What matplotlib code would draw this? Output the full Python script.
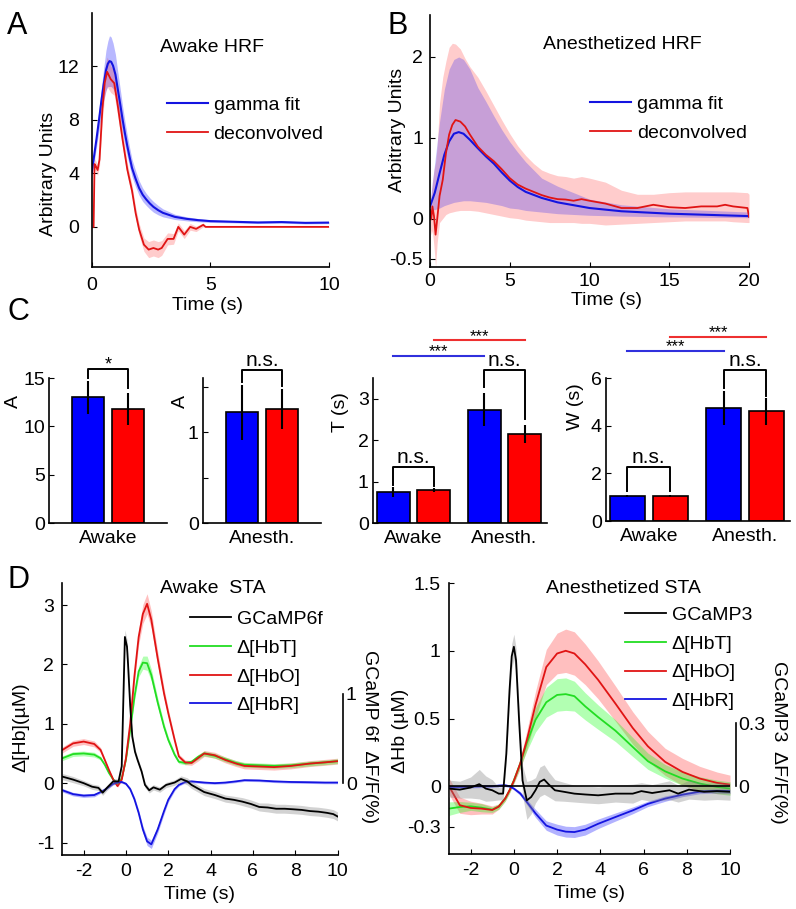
import numpy as np
import matplotlib
matplotlib.use('Agg')
import matplotlib.pyplot as plt

plt.rcParams['font.family'] = ['Liberation Sans', 'DejaVu Sans']
plt.rcParams['font.size'] = 14
plt.rcParams['axes.linewidth'] = 1.2
plt.rcParams['axes.unicode_minus'] = False
plt.rcParams['xtick.direction'] = 'in'
plt.rcParams['ytick.direction'] = 'in'
plt.rcParams['xtick.major.size'] = 3.5
plt.rcParams['ytick.major.size'] = 3.5

BLUE = '#1414e0'
RED = '#e01414'
GREEN = '#22dd22'

# ---- A: awake HRF ----
t_a_fit = [0, 0.1, 0.2, 0.3, 0.4, 0.5, 0.6, 0.68, 0.75, 0.82, 0.9, 1.0, 1.1, 1.2, 1.3, 1.4, 1.5, 1.6,
           1.7, 1.85, 2.0, 2.15, 2.3, 2.45, 2.6, 2.8, 3.0, 3.5, 4.0, 4.5, 5.0, 6.0, 7.0, 8.0, 9.0, 10.0]
a_fit = [4.05, 5.3, 6.55, 7.9, 9.3, 10.6, 11.7, 12.2, 12.4, 12.35, 12.05, 11.4, 10.3, 9.2, 8.05, 7.0, 6.05, 5.2,
         4.4, 3.6, 2.9, 2.4, 2.05, 1.75, 1.5, 1.25, 1.05, 0.75, 0.6, 0.5, 0.43, 0.38, 0.33, 0.36, 0.3, 0.32]
a_fit_sd = [0.4, 0.5, 0.6, 0.8, 1.0, 1.2, 1.5, 1.7, 1.9, 1.85, 1.7, 1.5, 1.3, 1.15, 1.0, 0.9, 0.8, 0.72,
            0.65, 0.6, 0.55, 0.5, 0.45, 0.42, 0.4, 0.35, 0.3, 0.2, 0.15, 0.12, 0.1, 0.08, 0.08, 0.08, 0.08, 0.08]

t_a_dec = [0.08, 0.12, 0.17, 0.25, 0.33, 0.45, 0.55, 0.65, 0.8, 0.95, 1.1, 1.3, 1.5, 1.7, 1.85, 2.0,
           2.2, 2.4, 2.6, 2.8, 2.95, 3.2, 3.45, 3.65, 3.9, 4.15, 4.4, 4.7, 4.8, 6.0, 8.0, 10.0]
a_dec = [0.0, 4.7, 4.55, 4.25, 5.05, 8.8, 10.8, 11.6, 11.05, 10.75, 9.05, 6.55, 4.3, 2.7, 1.05, -0.2,
         -1.33, -1.7, -1.58, -1.7, -1.58, -0.9, -0.9, 0.0, -0.58, 0.0, -0.15, 0.15, 0.0, 0.0, 0.0, 0.0]
a_dec_sd = [0.1, 0.4, 0.4, 0.4, 0.5, 0.8, 1.0, 1.1, 1.0, 0.9, 0.8, 0.6, 0.5, 0.45, 0.45, 0.45,
            0.5, 0.6, 0.6, 0.6, 0.55, 0.45, 0.4, 0.3, 0.3, 0.25, 0.2, 0.15, 0.05, 0.03, 0.03, 0.03]

# ---- B: anesthetized HRF ----
t_b_fit = [0, 0.3, 0.6, 0.9, 1.2, 1.5, 1.8, 2.1, 2.5, 3, 3.5, 4, 4.5, 5, 5.5, 6, 7, 8, 10, 12, 15, 20]
b_fit = [0.15, 0.32, 0.56, 0.79, 0.955, 1.05, 1.07, 1.05, 0.975, 0.87, 0.77, 0.68, 0.57, 0.47, 0.39, 0.33,
         0.255, 0.2, 0.13, 0.09, 0.06, 0.03]
b_fit_lo = [0.1, 0.11, 0.13, 0.16, 0.18, 0.2, 0.21, 0.22, 0.22, 0.21, 0.2, 0.18, 0.16, 0.13, 0.12, 0.1,
            0.08, 0.06, 0.04, 0.03, 0.02, 0.01]
b_fit_hi = [0.2, 0.7, 1.2, 1.6, 1.85, 1.97, 2.0, 1.97, 1.85, 1.62, 1.45, 1.27, 1.1, 0.95, 0.82, 0.7,
            0.5, 0.4, 0.24, 0.17, 0.12, 0.08]

t_b_dec = [0, 0.08, 0.15, 0.25, 0.35, 0.45, 0.6, 0.8, 1.0, 1.2, 1.4, 1.6, 1.9, 2.2, 2.5, 3, 3.5, 4, 4.5, 5,
           5.5, 6, 6.5, 7, 7.5, 8, 8.5, 9, 9.5, 10, 11, 12, 13, 14, 15, 16, 17, 18, 18.5, 19, 19.9, 20]
b_dec = [0.11, -0.01, 0.15, 0.03, -0.2, -0.01, 0.28, 0.48, 0.81, 1.04, 1.16, 1.22, 1.2, 1.14, 1.04, 0.89,
         0.79, 0.71, 0.61, 0.5, 0.42, 0.37, 0.33, 0.29, 0.26, 0.24, 0.235, 0.22, 0.24, 0.22, 0.185, 0.13,
         0.13, 0.17, 0.14, 0.13, 0.15, 0.15, 0.17, 0.15, 0.13, 0.02]
b_dec_lo = [-0.1, -0.2, -0.15, -0.35, -0.6, -0.3, -0.05, 0.0, 0.05, 0.07, 0.08, 0.09, 0.1, 0.1, 0.1, 0.09,
            0.07, 0.05, 0.03, 0.01, 0.0, -0.02, -0.03, -0.04, -0.05, -0.05, -0.05, -0.05, -0.06, -0.06,
            -0.08, -0.07, -0.06, -0.05, -0.04, -0.03, -0.03, -0.03, -0.03, -0.04, -0.05, -0.05]
b_dec_hi = [0.15, 0.3, 0.45, 0.6, 0.7, 0.9, 1.43, 1.75, 1.95, 2.12, 2.17, 2.16, 2.1, 1.98, 1.88, 1.75,
            1.58, 1.4, 1.22, 1.05, 0.9, 0.78, 0.68, 0.6, 0.56, 0.53, 0.52, 0.5, 0.52, 0.5, 0.45, 0.35,
            0.3, 0.3, 0.32, 0.33, 0.33, 0.33, 0.33, 0.33, 0.32, 0.3]

# ---- C: fit parameters (blue = gamma fit, red = deconvolved) ----
c_amp_awake = [13.0, 11.8]
c_amp_awake_err = [1.7, 1.7]
c_amp_anes = [1.22, 1.26]
c_amp_anes_err = [0.3, 0.22]
c_T = [0.75, 0.8, 2.74, 2.15]
c_T_err = [0.13, 0.05, 0.4, 0.22]
c_W = [1.05, 1.05, 4.75, 4.6]
c_W_err = [0.05, 0.05, 0.7, 0.58]

# ---- D left: awake STA ----
t_dl = [-3, -2.5, -2, -1.5, -1.2, -1, -0.8, -0.6, -0.4, -0.2, 0, 0.2, 0.4, 0.6, 0.8, 1.0, 1.2, 1.5,
        1.8, 2.0, 2.3, 2.5, 2.8, 3.1, 3.4, 3.7, 4.2, 4.7, 5.2, 5.6, 6.3, 7.0, 7.8, 8.7, 9.4, 10]
hbo_l = [0.56, 0.67, 0.70, 0.66, 0.56, 0.39, 0.22, 0.06, -0.05, 0.06, 0.42, 1.0, 1.8, 2.46, 2.85, 3.02,
         2.75, 2.1, 1.51, 1.18, 0.73, 0.45, 0.35, 0.34, 0.42, 0.5, 0.47, 0.39, 0.33, 0.29, 0.28, 0.27,
         0.29, 0.33, 0.35, 0.37]
hbt_l = [0.42, 0.49, 0.50, 0.48, 0.42, 0.31, 0.17, 0.06, 0.0, 0.08, 0.4, 0.9, 1.45, 1.88, 2.03, 2.02,
         1.82, 1.36, 0.95, 0.73, 0.48, 0.36, 0.34, 0.36, 0.44, 0.5, 0.46, 0.4, 0.34, 0.31, 0.3, 0.29,
         0.3, 0.33, 0.35, 0.37]
hbr_l = [-0.12, -0.185, -0.21, -0.2, -0.15, -0.11, -0.06, -0.01, 0.01, 0.02, -0.01, -0.1, -0.27, -0.5,
         -0.78, -0.98, -1.03, -0.78, -0.47, -0.28, -0.1, -0.03, 0.02, 0.03, 0.02, 0.01, 0.0, 0.01, 0.03,
         0.05, 0.045, 0.03, 0.02, 0.015, 0.01, 0.01]
hbo_l_sd = [0.05, 0.05, 0.05, 0.05, 0.04, 0.03, 0.02, 0.02, 0.02, 0.03, 0.04, 0.07, 0.1, 0.13, 0.16, 0.17,
            0.15, 0.12, 0.09, 0.07, 0.05, 0.04, 0.04, 0.04, 0.05, 0.05, 0.05, 0.05, 0.05, 0.05, 0.05,
            0.05, 0.05, 0.05, 0.05, 0.05]
hbt_l_sd = [0.04, 0.04, 0.04, 0.04, 0.03, 0.02, 0.02, 0.02, 0.02, 0.02, 0.03, 0.05, 0.07, 0.09, 0.11, 0.12,
            0.1, 0.08, 0.06, 0.05, 0.04, 0.03, 0.03, 0.03, 0.04, 0.04, 0.04, 0.04, 0.04, 0.04, 0.04,
            0.04, 0.04, 0.04, 0.04, 0.04]
hbr_l_sd = [0.03, 0.03, 0.03, 0.03, 0.02, 0.02, 0.02, 0.02, 0.02, 0.02, 0.02, 0.03, 0.04, 0.05, 0.06, 0.07,
            0.07, 0.06, 0.05, 0.04, 0.03, 0.02, 0.02, 0.02, 0.02, 0.02, 0.02, 0.02, 0.02, 0.02, 0.02,
            0.02, 0.02, 0.02, 0.02, 0.02]

t_gl = [-3, -2.5, -2, -1.6, -1.3, -1.1, -0.9, -0.6, -0.35, -0.2, -0.1, -0.05, 0.05, 0.1, 0.2, 0.3, 0.43,
        0.55, 0.74, 0.9, 1.1, 1.3, 1.6, 1.9, 2.3, 2.6, 2.9, 3.1, 3.7, 4.2, 4.7, 5.1, 5.5, 5.9, 6.3, 6.7,
        7.1, 7.5, 7.9, 8.3, 8.7, 9.1, 9.5, 9.8, 10]
gcamp6 = [0.073, 0.04, 0.0, -0.04, -0.053, -0.107, -0.053, 0.02, 0.02, 0.19, 1.16, 1.64, 1.53, 1.33, 0.87,
          0.52, 0.35, 0.26, 0.13, -0.02, -0.08, -0.047, -0.073, -0.02, 0.007, 0.047, 0.02, -0.02, -0.1,
          -0.133, -0.173, -0.187, -0.207, -0.233, -0.267, -0.273, -0.287, -0.287, -0.293, -0.3, -0.313,
          -0.32, -0.333, -0.347, -0.373]
gcamp6_sd = [0.035, 0.035, 0.03, 0.03, 0.03, 0.03, 0.03, 0.03, 0.03, 0.04, 0.07, 0.08, 0.08, 0.07, 0.05,
             0.04, 0.04, 0.03, 0.03, 0.03, 0.03, 0.03, 0.03, 0.03, 0.03, 0.035, 0.04, 0.04, 0.04, 0.04,
             0.04, 0.04, 0.045, 0.045, 0.045, 0.05, 0.05, 0.05, 0.05, 0.05, 0.05, 0.05, 0.05, 0.05, 0.05]

# ---- D right: anesthetized STA ----
t_dr = [-3, -2.5, -2, -1.5, -1, -0.7, -0.4, -0.2, 0, 0.3, 0.6, 1.0, 1.5, 2.0, 2.4, 2.8, 3.3, 3.9, 4.7,
        5.5, 6.2, 7.0, 7.8, 8.6, 9.4, 10]
hbo_r = [0.0, -0.14, -0.16, -0.165, -0.175, -0.15, -0.09, -0.03, 0.04, 0.17, 0.34, 0.6, 0.88, 0.98, 1.0,
         0.98, 0.9, 0.785, 0.61, 0.43, 0.295, 0.18, 0.106, 0.057, 0.025, 0.012]
hbt_r = [-0.165, -0.153, -0.148, -0.158, -0.173, -0.15, -0.09, -0.03, 0.044, 0.17, 0.32, 0.49, 0.62, 0.674,
         0.68, 0.665, 0.59, 0.51, 0.41, 0.29, 0.185, 0.11, 0.057, 0.02, -0.005, -0.017]
hbr_r = [-0.005, -0.005, -0.003, 0.0, 0.0, 0.005, 0.007, 0.0, -0.017, -0.054, -0.116, -0.2, -0.29, -0.32,
         -0.335, -0.338, -0.32, -0.277, -0.227, -0.178, -0.13, -0.091, -0.062, -0.04, -0.035, -0.037]
hbo_r_sd = [0.06, 0.06, 0.05, 0.04, 0.03, 0.02, 0.02, 0.02, 0.02, 0.04, 0.07, 0.1, 0.13, 0.15, 0.16, 0.16,
            0.15, 0.14, 0.13, 0.12, 0.11, 0.1, 0.1, 0.09, 0.08, 0.07]
hbt_r_sd = [0.05, 0.04, 0.03, 0.03, 0.02, 0.02, 0.02, 0.02, 0.02, 0.03, 0.06, 0.09, 0.11, 0.12, 0.12, 0.11,
            0.1, 0.09, 0.08, 0.07, 0.06, 0.05, 0.05, 0.05, 0.05, 0.05]
hbr_r_sd = [0.01, 0.01, 0.01, 0.01, 0.01, 0.01, 0.01, 0.01, 0.01, 0.015, 0.02, 0.03, 0.035, 0.04, 0.04,
            0.04, 0.04, 0.035, 0.03, 0.025, 0.02, 0.02, 0.015, 0.015, 0.015, 0.015]

t_gr = [-3, -2.5, -2, -1.6, -1.3, -1, -0.7, -0.5, -0.35, -0.2, -0.1, 0, 0.1, 0.25, 0.4, 0.6, 0.8, 1.0,
        1.2, 1.4, 1.6, 1.9, 2.3, 2.8, 3.3, 3.9, 4.7, 5.5, 5.9, 6.4, 7.2, 7.6, 8.1, 8.8, 9.4, 10]
gcamp3 = [-0.011, -0.016, -0.006, 0.01, -0.011, -0.019, -0.035, -0.035, 0.154, 0.457, 0.617, 0.662, 0.598,
          0.296, 0.028, -0.067, -0.051, -0.019, 0.021, 0.032, 0.01, -0.019, -0.026, -0.035, -0.039, -0.043,
          -0.035, -0.035, -0.023, -0.032, -0.019, -0.035, -0.016, -0.026, -0.023, -0.026]
gcamp3_sd = [0.04, 0.04, 0.05, 0.07, 0.06, 0.05, 0.03, 0.03, 0.04, 0.05, 0.06, 0.06, 0.06, 0.06, 0.07, 0.09,
             0.08, 0.06, 0.07, 0.07, 0.06, 0.05, 0.045, 0.04, 0.04, 0.04, 0.04, 0.045, 0.04, 0.04, 0.045,
             0.04, 0.045, 0.04, 0.04, 0.04]

LEG = dict(loc='upper left', frameon=False, borderpad=0, borderaxespad=0,
           handlelength=2.1, handletextpad=0.3, labelspacing=0.57)


def band(ax, t, y, sd, color, alpha):
    y = np.asarray(y)
    sd = np.asarray(sd)
    ax.fill_between(t, y - sd, y + sd, color=color, alpha=alpha, lw=0)


def clean(ax):
    ax.spines['top'].set_visible(False)
    ax.spines['right'].set_visible(False)


def bracket(ax, x1, x2, ytop, y1, y2, label, star=False):
    ax.plot([x1, x1, x2, x2], [y1, ytop, ytop, y2], color='k', lw=1.4, clip_on=False)
    if star:
        ax.annotate(label, ((x1 + x2) / 2, ytop), xytext=(0, 3), textcoords='offset points',
                    ha='center', va='center', fontsize=13, annotation_clip=False)
    else:
        ax.text((x1 + x2) / 2, ytop, label, ha='center', va='bottom', fontsize=15, clip_on=False)


def sigline(ax, x1, x2, y, color):
    ax.plot([x1, x2], [y, y], color=color, lw=1.5, clip_on=False)
    ax.annotate('***', ((x1 + x2) / 2, y), xytext=(0, 3), textcoords='offset points',
                ha='center', va='center', fontsize=12, annotation_clip=False)


fig = plt.figure(figsize=(7.96, 9.09), dpi=100)

# ---------- A ----------
ax = fig.add_axes([0.1152, 0.7063, 0.2981, 0.2794])
band(ax, t_a_fit, a_fit, a_fit_sd, 'blue', 0.28)
band(ax, t_a_dec, a_dec, a_dec_sd, 'red', 0.2)
ax.plot(t_a_fit, a_fit, color=BLUE, lw=1.5, label='gamma fit')
ax.plot(t_a_dec, a_dec, color=RED, lw=1.3, label='deconvolved')
ax.set_xlim(0, 10)
ax.set_ylim(-3, 16)
ax.set_xticks([0, 5, 10])
ax.set_yticks([0, 4, 8, 12])
ax.tick_params(axis='x', pad=7)
ax.tick_params(axis='y', pad=9)
ax.set_xlabel('Time (s)', va='center')
ax.xaxis.set_label_coords(0.488, -0.15)
ax.set_ylabel('Arbitrary Units', va='center')
ax.yaxis.set_label_coords(-0.184, 0.366)
ax.text(0.507, 0.866, 'Awake HRF', transform=ax.transAxes, ha='center', va='center')
ax.legend(bbox_to_anchor=(0.317, 0.672), **LEG)
clean(ax)

# ---------- B ----------
ax = fig.add_axes([0.5402, 0.7063, 0.4008, 0.2772])
ax.fill_between(t_b_dec, b_dec_lo, b_dec_hi, color='red', alpha=0.2, lw=0)
ax.fill_between(t_b_fit, b_fit_lo, b_fit_hi, color='blue', alpha=0.22, lw=0)
ax.plot(t_b_fit, b_fit, color=BLUE, lw=1.5, label='gamma fit')
ax.plot(t_b_dec, b_dec, color=RED, lw=1.3, label='deconvolved')
ax.set_xlim(0, 20)
ax.set_ylim(-0.6, 2.52)
ax.set_xticks([0, 5, 10, 15, 20])
ax.set_yticks([-0.5, 0, 1, 2])
ax.set_yticklabels(['-0.5', '0', '1', '2'])
ax.tick_params(axis='x', pad=4)
ax.tick_params(axis='y', pad=5)
ax.set_xlabel('Time (s)', va='center')
ax.xaxis.set_label_coords(0.552, -0.135)
ax.set_ylabel('Arbitrary Units', va='center')
ax.yaxis.set_label_coords(-0.103, 0.544)
ax.text(0.602, 0.881, 'Anesthetized HRF', transform=ax.transAxes, ha='center', va='center')
ax.legend(bbox_to_anchor=(0.502, 0.681), **LEG)
clean(ax)

# ---------- C ----------
bar_colors = ['#0000ff', '#ff0000', '#0000ff', '#ff0000']
fs_c = 14

ax = fig.add_axes([0.0616, 0.4246, 0.1482, 0.1595])
ax.bar([1, 2], c_amp_awake, width=0.82, color=bar_colors[:2], edgecolor='k', lw=1.2)
ax.errorbar([1, 2], c_amp_awake, yerr=c_amp_awake_err, fmt='none', ecolor='k', elinewidth=1.5, capsize=0)
ax.set_xlim(0, 3)
ax.set_ylim(0, 15)
ax.set_yticks([0, 5, 10, 15])
ax.set_xticks([1.5])
ax.set_xticklabels(['Awake'])
ax.tick_params(axis='x', length=0, pad=5, labelsize=fs_c)
ax.tick_params(axis='y', pad=3, labelsize=fs_c)
ax.set_ylabel('A', va='center', fontsize=fs_c)
ax.yaxis.set_label_coords(-0.305, 0.84)
bracket(ax, 1, 2, 15.9, 15.0, 14.0, '*', star=True)
clean(ax)

ax = fig.add_axes([0.2550, 0.4246, 0.1482, 0.1595])
ax.bar([1, 2], c_amp_anes, width=0.82, color=bar_colors[:2], edgecolor='k', lw=1.2)
ax.errorbar([1, 2], c_amp_anes, yerr=c_amp_anes_err, fmt='none', ecolor='k', elinewidth=1.5, capsize=0)
ax.set_xlim(0, 3)
ax.set_ylim(0, 1.6)
ax.set_yticks([0, 0.5, 1, 1.5])
ax.set_yticklabels(['0', '', '1', ''])
ax.set_xticks([1.5])
ax.set_xticklabels(['Anesth.'])
ax.tick_params(axis='x', length=0, pad=5, labelsize=fs_c)
ax.tick_params(axis='y', pad=3, labelsize=fs_c)
ax.set_ylabel('A', va='center', fontsize=fs_c)
ax.yaxis.set_label_coords(-0.195, 0.84)
bracket(ax, 1, 2, 1.69, 1.56, 1.51, 'n.s.')
clean(ax)

pos4 = [1, 2, 3.25, 4.25]

ax = fig.add_axes([0.4686, 0.4246, 0.2186, 0.1595])
ax.bar(pos4, c_T, width=0.82, color=bar_colors, edgecolor='k', lw=1.2)
ax.errorbar(pos4, c_T, yerr=c_T_err, fmt='none', ecolor='k', elinewidth=1.5, capsize=0)
ax.set_xlim(0.5, 4.8)
ax.set_ylim(0, 3.5)
ax.set_yticks([0, 1, 2, 3])
ax.set_xticks([1.5, 3.75])
ax.set_xticklabels(['Awake', 'Anesth.'])
ax.tick_params(axis='x', length=0, pad=5, labelsize=fs_c)
ax.tick_params(axis='y', pad=3, labelsize=fs_c)
ax.set_ylabel('T (s)', va='center', fontsize=fs_c)
ax.yaxis.set_label_coords(-0.184, 0.766)
bracket(ax, 1, 2, 1.36, 0.92, 0.9, 'n.s.')
bracket(ax, 3.25, 4.25, 3.7, 3.28, 2.52, 'n.s.')
sigline(ax, 1, 3.25, 4.04, '#3030dd')
sigline(ax, 2, 4.25, 4.41, '#ee3030')
clean(ax)

ax = fig.add_axes([0.7613, 0.4268, 0.2312, 0.1573])
ax.bar(pos4, c_W, width=0.82, color=bar_colors, edgecolor='k', lw=1.2)
ax.errorbar(pos4, c_W, yerr=c_W_err, fmt='none', ecolor='k', elinewidth=1.5, capsize=0)
ax.set_xlim(0.5, 4.8)
ax.set_ylim(0, 6)
ax.set_yticks([0, 2, 4, 6])
ax.set_xticks([1.5, 3.75])
ax.set_xticklabels(['Awake', 'Anesth.'])
ax.tick_params(axis='x', length=0, pad=5, labelsize=fs_c)
ax.tick_params(axis='y', pad=3, labelsize=fs_c)
ax.set_ylabel('W (s)', va='center', fontsize=fs_c)
ax.yaxis.set_label_coords(-0.168, 0.80)
bracket(ax, 1, 2, 2.28, 1.25, 1.25, 'n.s.')
bracket(ax, 3.25, 4.25, 6.34, 5.6, 5.25, 'n.s.')
sigline(ax, 1, 3.25, 7.14, '#3030dd')
sigline(ax, 2, 4.25, 7.73, '#ee3030')
clean(ax)


# ---------- D ----------
def sta_panel(rect, ylim, yticks, yticklabels, ylabel, ylab_xy, k, gname, gt, gy, gsd,
              hb, scale_top, scale_labels, right_label, right_xy, title, title_xy, leg_xy, zero_line):
    ax = fig.add_axes(rect)
    t, hbt, hbt_sd, hbo, hbo_sd, hbr, hbr_sd = hb
    band(ax, t, hbo, hbo_sd, 'red', 0.25)
    band(ax, t, hbt, hbt_sd, 'lime', 0.3)
    band(ax, t, hbr, hbr_sd, 'blue', 0.3)
    l_t, = ax.plot(t, hbt, color=GREEN, lw=1.3)
    l_o, = ax.plot(t, hbo, color=RED, lw=1.3)
    l_r, = ax.plot(t, hbr, color=BLUE, lw=1.3)
    ax.set_xlim(-3, 10)
    ax.set_ylim(*ylim)
    ax.set_xticks([-2, 0, 2, 4, 6, 8, 10])
    ax.set_yticks(yticks)
    ax.set_yticklabels(yticklabels)
    ax.tick_params(axis='x', pad=6)
    ax.tick_params(axis='y', pad=6)
    ax.set_xlabel('Time (s)', va='center')
    ax.xaxis.set_label_coords(0.5, -0.147)
    ax.set_ylabel(ylabel, va='center')
    ax.yaxis.set_label_coords(*ylab_xy)
    clean(ax)

    ax2 = ax.twinx()
    ax2.set_ylim(ylim[0] * k, ylim[1] * k)
    band(ax2, gt, gy, gsd, 'gray', 0.35)
    if zero_line:
        ax2.axhline(0, color='k', lw=1.2)
    l_g, = ax2.plot(gt, gy, color='k', lw=1.3)
    for s in ['top', 'bottom', 'left']:
        ax2.spines[s].set_visible(False)
    ax2.spines['right'].set_bounds(0, scale_top)
    ax2.spines['right'].set_position(('outward', 4))
    ax2.set_yticks([0, scale_top])
    ax2.set_yticklabels(scale_labels)
    ax2.tick_params(axis='y', length=0, pad=2)
    ax2.text(right_xy[0], right_xy[1], right_label, transform=ax2.transAxes, rotation=270,
             ha='center', va='center')
    ax2.text(title_xy[0], title_xy[1], title, transform=ax2.transAxes, ha='center', va='center')
    ax2.legend([l_g, l_t, l_o, l_r], [gname, 'Δ[HbT]', 'Δ[HbO]', 'Δ[HbR]'],
               bbox_to_anchor=leg_xy, **LEG)
    return ax


sta_panel([0.0785, 0.0594, 0.3455, 0.2992], (-1.21, 3.37), [-1, 0, 1, 2, 3],
          ['-1', '0', '1', '2', '3'], 'Δ[Hb](µM)', (-0.151, 0.47), 0.666, 'GCaMP6f',
          t_gl, gcamp6, gcamp6_sd,
          (t_dl, hbt_l, hbt_l_sd, hbo_l, hbo_l_sd, hbr_l, hbr_l_sd),
          1, ['0', '1'], 'GCaMP 6f  ΔF/F(%)', (1.118, 0.434), 'Awake  STA', (0.547, 0.98),
          (0.464, 0.899), False)

sta_panel([0.5641, 0.0605, 0.3530, 0.2981], (-0.5, 1.5), [-0.3, 0, 0.5, 1, 1.5],
          ['-0.3', '0', '0.5', '1', '1.5'], 'ΔHb (µM)', (-0.172, 0.454), 0.643, 'GCaMP3',
          t_gr, gcamp3, gcamp3_sd,
          (t_dr, hbt_r, hbt_r_sd, hbo_r, hbo_r_sd, hbr_r, hbr_r_sd),
          0.3, ['0', '0.3'], 'GCaMP3  ΔF/F(%)', (1.174, 0.413), 'Anesthetized STA', (0.62, 0.98),
          (0.626, 0.914), True)

# panel letters
for letter, x, y in [('A', 0.009, 0.971), ('B', 0.487, 0.971), ('C', 0.009, 0.657), ('D', 0.009, 0.362)]:
    fig.text(x, y, letter, fontsize=22, va='center', ha='left')

fig.savefig('out.png', dpi=100)
